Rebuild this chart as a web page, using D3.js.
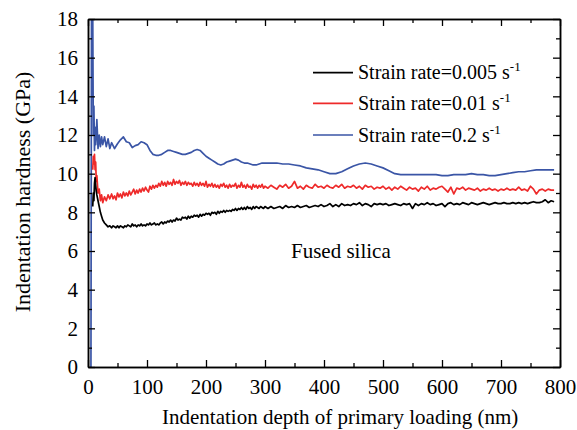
<!DOCTYPE html>
<html>
<head>
<meta charset="utf-8">
<script src="https://cdn.jsdelivr.net/npm/d3@7"></script>
<style>
  html, body { margin: 0; padding: 0; background: #fff; }
  svg { display: block; }
  text { font-family: "Liberation Serif", "Times New Roman", serif; fill: #000; }
</style>
</head>
<body>
<svg id="chart" width="577" height="430"></svg>
<script>
// ---------------- data ----------------
// depth grid (nm) for the 0.005 and 0.01 s^-1 curves
const depthFine = [
  8,9,10,11,12,13,14,15,17,19,21,23,25,28,31,34,37,
  40,42.5,45,47.5,50,52.5,55,57.5,60,62.5,
  65,67.5,70,72.5,75,77.5,80,82.5,85,87.5,
  90,92.5,95,97.5,100,102.5,105,107.5,110,112.5,
  115,117.5,120,122.5,125,127.5,130,132.5,135,137.5,
  140,142.5,145,147.5,150,152.5,155,157.5,160,162.5,
  165,167.5,170,172.5,175,177.5,180,182.5,185,187.5,
  190,192.5,195,197.5,200,202.5,205,207.5,210,212.5,
  215,217.5,220,222.5,225,227.5,230,232.5,235,237.5,
  240,242.5,245,247.5,250,252.5,255,257.5,260,262.5,
  265,267.5,270,272.5,275,277.5,280,282.5,285,287.5,
  290,292.5,295,297.5,300,
  305,310,315,320,325,330,335,340,345,350,
  355,360,365,370,375,380,385,390,395,400,
  405,410,415,420,425,430,435,440,445,450,
  455,460,465,470,475,480,485,490,495,500,
  505,510,515,520,525,530,535,540,545,550,
  555,560,565,570,575,580,585,590,595,600,
  605,610,615,620,625,630,635,640,645,650,
  655,660,665,670,675,680,685,690,695,700,
  705,710,715,720,725,730,735,740,745,750,
  755,760,765,770,775,780,785,790
];

const hardness0005 = [
  8.3,9.0,8.6,9.5,9.8,9.4,9.1,8.9,8.6,8.3,8.0,7.8,7.6,7.45,7.35,7.25,7.3,
  7.2,7.3,7.25,7.2,7.3,7.2,7.3,7.25,7.2,7.3,
  7.25,7.35,7.3,7.25,7.4,7.3,7.35,7.25,7.35,7.3,
  7.4,7.3,7.35,7.3,7.4,7.35,7.45,7.35,7.4,7.45,
  7.35,7.4,7.35,7.45,7.5,7.4,7.5,7.45,7.55,7.5,
  7.6,7.5,7.6,7.55,7.7,7.6,7.65,7.6,7.75,7.7,
  7.75,7.65,7.8,7.7,7.8,7.75,7.85,7.8,7.85,7.75,
  7.9,7.8,7.9,7.85,7.95,7.9,7.95,7.85,8.0,7.95,
  8.0,7.9,8.05,7.95,8.05,8.0,8.1,8.0,8.1,8.05,
  8.1,8.05,8.15,8.1,8.2,8.1,8.2,8.15,8.25,8.15,
  8.25,8.15,8.3,8.2,8.25,8.15,8.3,8.2,8.3,8.25,
  8.2,8.3,8.25,8.2,8.3,
  8.2,8.3,8.2,8.25,8.3,8.2,8.35,8.25,8.3,8.25,
  8.35,8.25,8.3,8.35,8.25,8.3,8.35,8.3,8.4,8.3,
  8.35,8.45,8.3,8.4,8.3,8.45,8.35,8.4,8.35,8.45,
  8.4,8.5,8.35,8.45,8.4,8.3,8.45,8.4,8.45,8.4,
  8.45,8.35,8.4,8.45,8.4,8.35,8.45,8.4,8.45,8.2,
  8.45,8.35,8.45,8.4,8.5,8.4,8.45,8.35,8.4,8.45,
  8.3,8.45,8.5,8.4,8.45,8.4,8.5,8.45,8.4,8.5,
  8.45,8.4,8.45,8.5,8.45,8.4,8.45,8.5,8.45,8.45,
  8.5,8.45,8.45,8.5,8.45,8.5,8.45,8.5,8.45,8.5,
  8.55,8.5,8.5,8.55,8.65,8.5,8.6,8.55
];

const hardness001 = [
  10.2,10.9,10.5,11.0,10.2,10.6,9.6,9.9,9.0,9.2,8.6,8.9,8.5,8.8,8.6,8.9,8.7,
  8.95,8.7,8.85,8.65,9.0,8.8,8.95,8.75,9.05,8.85,
  9.0,8.85,9.1,8.9,9.05,9.2,8.95,9.15,9.0,9.2,
  9.05,9.25,9.1,9.3,9.15,9.05,9.35,9.2,9.4,9.25,
  9.4,9.3,9.5,9.35,9.6,9.4,9.55,9.35,9.6,9.45,
  9.55,9.4,9.7,9.45,9.6,9.5,9.65,9.4,9.55,9.45,
  9.6,9.4,9.55,9.45,9.5,9.35,9.55,9.4,9.5,9.35,
  9.55,9.4,9.5,9.35,9.6,9.3,9.45,9.35,9.5,9.3,
  9.45,9.3,9.4,9.25,9.45,9.35,9.5,9.3,9.4,9.25,
  9.45,9.3,9.4,9.35,9.5,9.25,9.4,9.3,9.55,9.3,
  9.4,9.25,9.45,9.3,9.35,9.2,9.45,9.3,9.4,9.25,
  9.4,9.3,9.45,9.25,9.35,
  9.25,9.4,9.3,9.2,9.4,9.3,9.45,9.25,9.35,9.6,
  9.25,9.35,9.2,9.4,9.3,9.25,9.45,9.3,9.35,9.25,
  9.4,9.3,9.25,9.4,9.3,9.45,9.25,9.35,9.3,9.4,
  9.25,9.35,9.2,9.4,9.3,9.35,9.2,9.3,9.25,9.35,
  9.2,9.3,9.15,9.3,9.2,9.35,9.25,9.15,9.3,9.2,
  9.25,9.1,9.3,9.2,9.35,9.15,9.25,9.2,9.3,9.35,
  9.2,9.05,9.3,8.95,9.25,9.2,9.3,9.15,9.25,9.2,
  9.15,9.25,9.1,9.2,9.15,9.25,9.15,9.2,9.1,9.2,
  9.15,9.25,9.15,9.2,9.15,9.3,9.15,9.2,9.1,9.35,
  9.2,8.95,9.15,9.2,9.1,9.2,9.15,9.15
];

// depth grid (nm) for the 0.2 s^-1 curve
const depthBlue = [
  5,6,7,8,9,10,11,12,13,14,15,17,19,21,23,25,28,31,34,37,40,
  45,50,55,60,65,70,75,80,85,90,95,100,105,110,115,120,125,130,135,140,
  145,150,155,160,165,170,175,180,185,190,195,200,205,210,215,220,225,230,235,240,
  245,250,255,260,265,270,275,280,285,290,295,300,
  310,320,330,340,350,360,370,380,390,400,410,420,430,440,450,460,470,480,490,500,
  510,520,530,540,550,560,570,580,590,600,610,620,630,640,650,660,670,680,690,700,
  710,720,730,740,750,760,770,780,790
];

const hardness02 = [
  0,19.5,14.0,18.5,12.0,13.5,11.2,12.4,11.5,12.0,12.8,11.3,12.0,11.4,11.9,11.5,11.9,11.4,11.8,11.3,11.6,
  11.3,11.55,11.75,11.9,11.65,11.6,11.35,11.45,11.5,11.65,11.6,11.5,11.2,11.0,10.95,10.95,11.0,11.1,11.2,11.2,
  11.15,11.1,11.05,11.0,11.0,11.05,11.1,11.2,11.25,11.2,11.05,10.9,10.8,10.7,10.6,10.5,10.45,10.5,10.6,10.65,
  10.7,10.75,10.7,10.6,10.55,10.55,10.5,10.45,10.45,10.5,10.55,10.55,
  10.55,10.55,10.5,10.5,10.45,10.4,10.3,10.25,10.2,10.1,10.0,10.0,10.1,10.25,10.4,10.5,10.55,10.5,10.4,10.3,
  10.15,10.0,9.95,9.95,9.95,9.95,9.95,9.95,9.95,9.9,9.9,9.95,9.95,9.95,10.0,9.95,9.95,9.9,9.9,9.95,
  10.0,10.05,10.1,10.1,10.15,10.2,10.2,10.2,10.2
];

const xTicks = [0,100,200,300,400,500,600,700,800];
const xMinorTicks = [50,150,250,350,450,550,650,750];
const yTicks = [0,2,4,6,8,10,12,14,16,18];
const yMinorTicks = [1,3,5,7,9,11,13,15,17];

const seriesNames = ["Strain rate=0.005 s", "Strain rate=0.01 s", "Strain rate=0.2 s"];
const seriesSup = "-1";
const seriesColors = ["#000000", "#ee2a2a", "#3a55a6"];
const seriesDepths = [depthFine, depthFine, depthBlue];
const seriesValues = [hardness0005, hardness001, hardness02];

const xTitle = "Indentation depth of primary loading (nm)";
const yTitle = "Indentation hardness (GPa)";
const annotation = "Fused silica";

seriesValues.forEach((v, i) => {
  if (v.length !== seriesDepths[i].length) {
    throw new Error("length mismatch series " + i + ": " + v.length + " vs " + seriesDepths[i].length);
  }
});

// ---------------- layout ----------------
const svg = d3.select("#chart");
const L = 88, R = 560, T = 19, B = 367;

const x = d3.scaleLinear().domain([0, 800]).range([L, R]);
const y = d3.scaleLinear().domain([0, 18]).range([B, T]);

svg.append("defs").append("clipPath").attr("id", "plotclip")
  .append("rect").attr("x", L).attr("y", T).attr("width", R - L).attr("height", B - T);

const line = d3.line()
  .x(d => x(d[0]))
  .y(d => y(d[1]));

const lineG = svg.append("g").attr("clip-path", "url(#plotclip)");
[2, 1, 0].forEach(i => {
  const pts = seriesDepths[i].map((dd, j) => [dd, seriesValues[i][j]]);
  lineG.append("path")
    .datum(pts)
    .attr("fill", "none")
    .attr("stroke", seriesColors[i])
    .attr("stroke-width", 1.7)
    .attr("stroke-linejoin", "round")
    .attr("d", line);
});

// axes
function styleAxis(g) {
  g.selectAll("path.domain").attr("stroke", "#000").attr("stroke-width", 1.5);
  g.selectAll(".tick line").attr("stroke", "#000").attr("stroke-width", 1.3);
  g.selectAll(".tick text").style("font-family", '"Liberation Serif", "Times New Roman", serif')
    .style("font-size", "21px").attr("fill", "#000");
}

svg.append("g").attr("transform", `translate(0,${B})`)
  .call(d3.axisBottom(x).tickValues(xTicks).tickSize(-7).tickSizeOuter(0).tickPadding(12))
  .call(styleAxis);
svg.append("g").attr("transform", `translate(0,${B})`)
  .call(d3.axisBottom(x).tickValues(xMinorTicks).tickSize(-4).tickSizeOuter(0).tickFormat(""))
  .call(styleAxis);
svg.append("g").attr("transform", `translate(0,${T})`)
  .call(d3.axisTop(x).tickValues(xTicks).tickSize(-7).tickSizeOuter(0).tickFormat(""))
  .call(styleAxis);
svg.append("g").attr("transform", `translate(0,${T})`)
  .call(d3.axisTop(x).tickValues(xMinorTicks).tickSize(-4).tickSizeOuter(0).tickFormat(""))
  .call(styleAxis);

svg.append("g").attr("transform", `translate(${L},0)`)
  .call(d3.axisLeft(y).tickValues(yTicks).tickSize(-7).tickSizeOuter(0).tickPadding(10))
  .call(styleAxis);
svg.append("g").attr("transform", `translate(${L},0)`)
  .call(d3.axisLeft(y).tickValues(yMinorTicks).tickSize(-4).tickSizeOuter(0).tickFormat(""))
  .call(styleAxis);
svg.append("g").attr("transform", `translate(${R},0)`)
  .call(d3.axisRight(y).tickValues(yTicks).tickSize(-7).tickSizeOuter(0).tickFormat(""))
  .call(styleAxis);
svg.append("g").attr("transform", `translate(${R},0)`)
  .call(d3.axisRight(y).tickValues(yMinorTicks).tickSize(-4).tickSizeOuter(0).tickFormat(""))
  .call(styleAxis);

// axis titles
svg.append("text")
  .attr("x", 162).attr("y", 424)
  .attr("text-anchor", "start")
  .style("font-size", "21px")
  .text(xTitle);

svg.append("text")
  .attr("transform", "translate(30,192) rotate(-90)")
  .attr("text-anchor", "middle")
  .style("font-size", "22px")
  .text(yTitle);

// annotation
svg.append("text")
  .attr("x", 291).attr("y", 258)
  .style("font-size", "21px")
  .text(annotation);

// legend
const legendY = [72.7, 103.3, 135];
seriesNames.forEach((name, i) => {
  svg.append("line")
    .attr("x1", 313).attr("x2", 353)
    .attr("y1", legendY[i]).attr("y2", legendY[i])
    .attr("stroke", seriesColors[i]).attr("stroke-width", 1.7);
  const t = svg.append("text")
    .attr("x", 358).attr("y", legendY[i] + 6.5)
    .style("font-size", "20px");
  t.append("tspan").text(name);
  t.append("tspan").attr("dy", -8).style("font-size", "13px").text(seriesSup);
});
</script>
</body>
</html>
